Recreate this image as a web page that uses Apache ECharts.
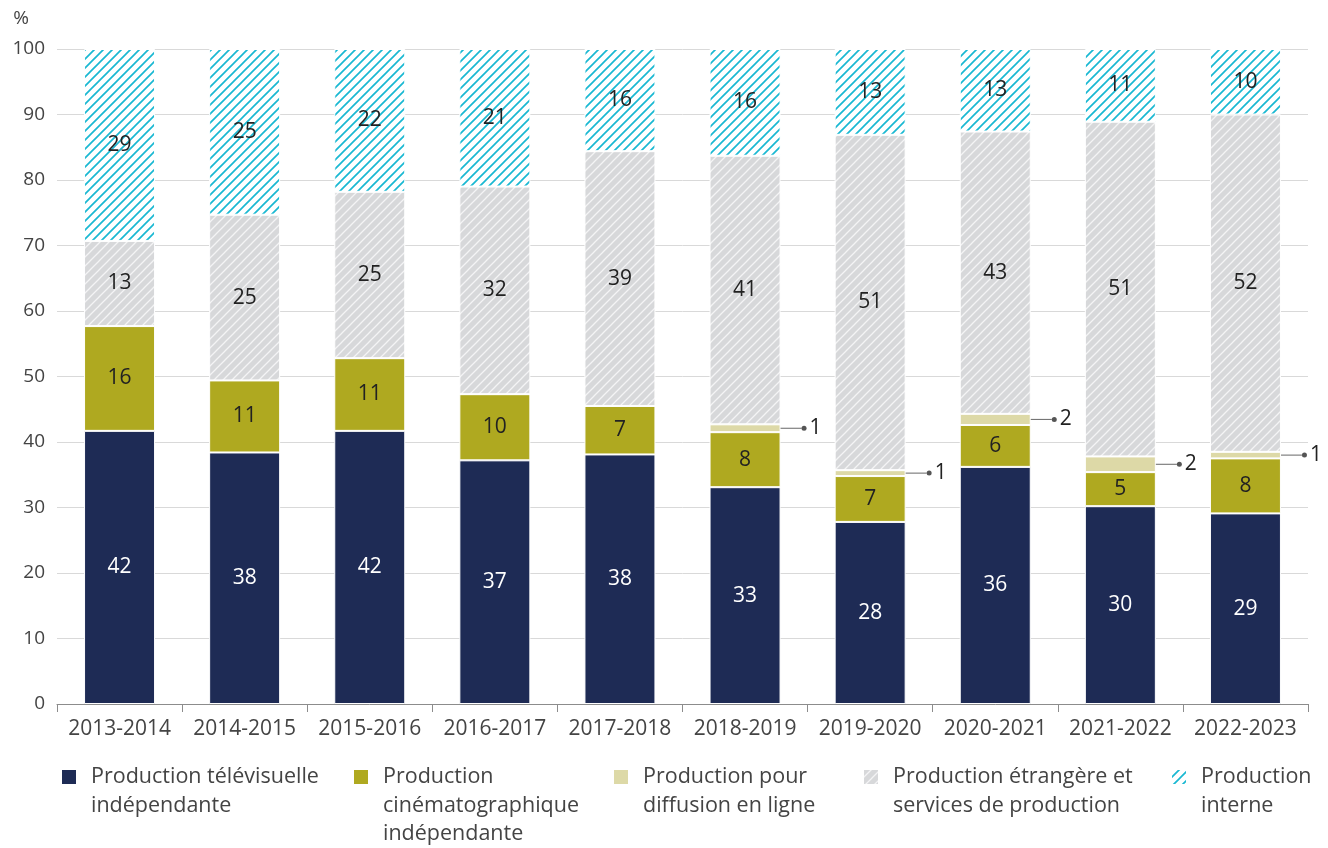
<!DOCTYPE html>
<html>
<head>
<meta charset="utf-8">
<script src="https://cdn.jsdelivr.net/npm/echarts@6/dist/echarts.min.js"></script>
<style>
  html, body { margin: 0; padding: 0; background: #fff; }
  #chart { width: 1328px; height: 848px; }
</style>
</head>
<body>
<div id="chart"></div>
<script>
// années
const years = ["2013-2014", "2014-2015", "2015-2016", "2016-2017", "2017-2018",
  "2018-2019", "2019-2020", "2020-2021", "2021-2022", "2022-2023"];

// parts en %
const tele = [41.7, 38.4, 41.7, 37.2, 38.1, 33.1, 27.8, 36.2, 30.2, 29.1];
const cinema = [16.0, 11.0, 11.1, 10.1, 7.4, 8.4, 7.0, 6.4, 5.2, 8.4];
const enLigne = [0, 0, 0, 0, 0, 1.2, 0.9, 1.7, 2.4, 1.0];
const etrangere = [13.0, 25.3, 25.4, 31.7, 38.9, 41.0, 51.2, 43.1, 51.1, 51.5];
const interne = [29.3, 25.3, 21.8, 21.0, 15.6, 16.3, 13.1, 12.6, 11.1, 10.0];

const names = [
  "Production télévisuelle\nindépendante",
  "Production\ncinématographique\nindépendante",
  "Production pour\ndiffusion en ligne",
  "Production étrangère et\nservices de production",
  "Production\ninterne",
];

const FONT = "'Open Sans', 'Noto Sans', sans-serif";

// motif hachuré
function hatch(bg, fg, lw, s) {
  const c = document.createElement("canvas");
  c.width = s;
  c.height = s;
  const ctx = c.getContext("2d");
  ctx.fillStyle = bg;
  ctx.fillRect(0, 0, s, s);
  ctx.strokeStyle = fg;
  ctx.lineWidth = lw;
  ctx.beginPath();
  ctx.moveTo(0, s);
  ctx.lineTo(s, 0);
  ctx.moveTo(-s / 2, s / 2);
  ctx.lineTo(s / 2, -s / 2);
  ctx.moveTo(s / 2, s * 1.5);
  ctx.lineTo(s * 1.5, s / 2);
  ctx.stroke();
  return { image: c, repeat: "repeat" };
}

const cyanHatch = hatch("#ffffff", "#19b8d2", 1.7, 9);
const greyHatch = hatch("#d7d8da", "#f4f4f5", 1.3, 9);

const chart = echarts.init(document.getElementById("chart"));

function makeSeries(name, data, color, labelColor) {
  return {
    name: name,
    type: "bar",
    stack: "total",
    barWidth: 71,
    data: data,
    itemStyle: { color: color, borderColor: "#fff", borderWidth: 1 },
    label: {
      show: true,
      position: "inside",
      color: labelColor,
      fontFamily: FONT,
      fontSize: 21,
      formatter: (p) => (p.value ? String(Math.round(p.value)) : ""),
    },
  };
}

const series = [
  makeSeries(names[0], tele, "#1e2b55", "#ffffff"),
  makeSeries(names[1], cinema, "#afa920", "#222"),
  makeSeries(names[2], enLigne, "#ddd9a7", "#222"),
  makeSeries(names[3], etrangere, greyHatch, "#222"),
  makeSeries(names[4], interne, cyanHatch, "#222"),
];

// étiquettes à droite avec trait de rappel pour la diffusion en ligne
series[2].label = {
  show: true,
  position: "right",
  distance: 0,
  fontFamily: FONT,
  formatter: (p) => (p.value ? "{l|}{d|}{v|" + Math.round(p.value) + "}" : ""),
  rich: {
    l: { width: 21, height: 1, backgroundColor: "#666" },
    d: { width: 5, height: 5, borderRadius: 2.5, backgroundColor: "#555" },
    v: { fontSize: 21, color: "#222", fontFamily: FONT, padding: [0, 0, 0, 3] },
  },
};

const legendLeft = [60, 352, 612, 862, 1170];
const legendLines = [2, 3, 2, 2, 2];
const LH = 28.5;
const legends = names.map((n, i) => ({
  data: [n],
  left: legendLeft[i],
  top: 777 - ((2 * legendLines[i] - 1) * LH) / 2,
  padding: 0,
  itemWidth: 16,
  itemHeight: 16,
  icon: "rect",
  selectedMode: false,
  // lignes vides au-dessus pour aligner la 1re ligne sur le carré
  formatter: (name) => "\n".repeat(legendLines[i] - 1) + name,
  textStyle: {
    fontFamily: FONT,
    fontSize: 21.5,
    lineHeight: LH,
    color: "#444",
    padding: [0, 0, 0, 9],
  },
}));

const option = {
  animation: false,
  grid: { left: 57, right: 20, top: 49, bottom: 144 },
  legend: legends,
  xAxis: {
    type: "category",
    data: years,
    axisLine: { lineStyle: { color: "#8c8c8c" } },
    axisTick: { show: true, length: 8, lineStyle: { color: "#8c8c8c" } },
    axisLabel: { interval: 0, fontFamily: FONT, fontSize: 21, color: "#444", margin: 15 },
  },
  yAxis: {
    type: "value",
    min: 0,
    max: 100,
    interval: 10,
    name: "%",
    nameLocation: "end",
    nameGap: 30,
    nameTextStyle: {
      fontFamily: FONT,
      fontSize: 19,
      color: "#444",
      align: "right",
      verticalAlign: "middle",
      padding: [0, 28, 0, 0],
    },
    axisLine: { show: false },
    axisTick: { show: false },
    axisLabel: { fontFamily: FONT, fontSize: 19, color: "#444", margin: 12 },
    splitLine: { lineStyle: { color: "#d9d9d9" } },
  },
  series: series,
};

chart.setOption(option);
</script>
</body>
</html>
